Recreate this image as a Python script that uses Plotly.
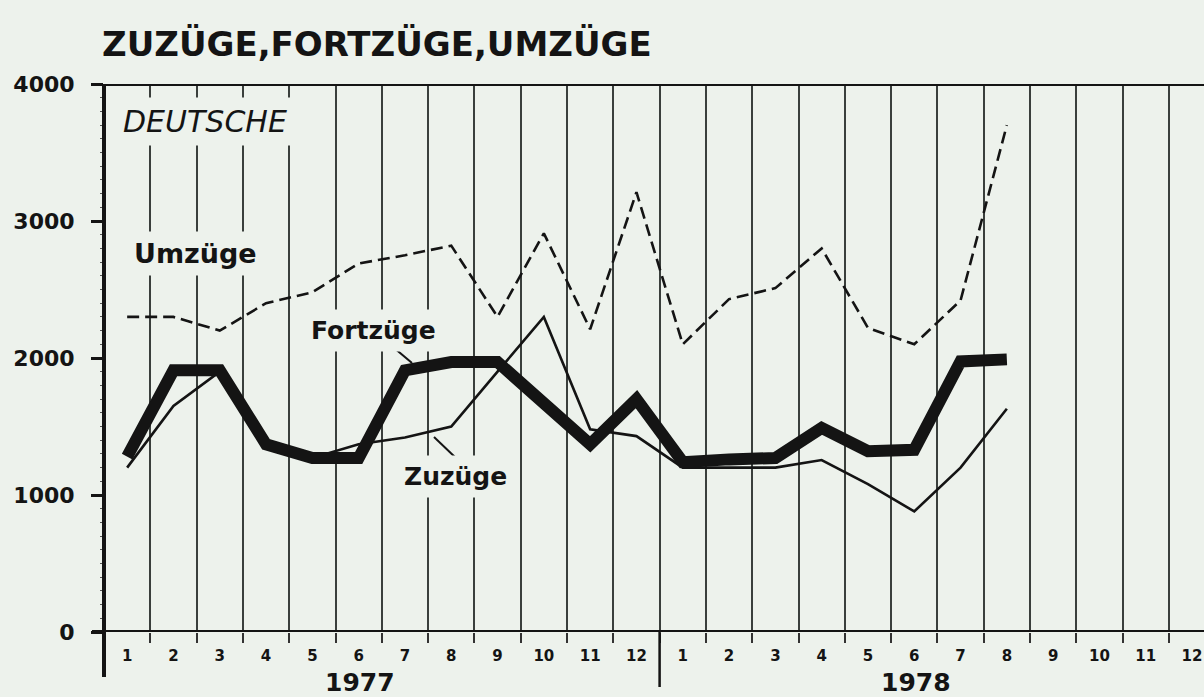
import plotly.graph_objects as go

# ---- data ----
months_1977 = ["1", "2", "3", "4", "5", "6", "7", "8", "9", "10", "11", "12"]
months_1978 = ["1", "2", "3", "4", "5", "6", "7", "8", "9", "10", "11", "12"]
month_labels = months_1977 + months_1978
years = ["1977", "1978"]

umzuege = [2300, 2300, 2200, 2400, 2480, 2690, 2750, 2820, 2300, 2910, 2210, 3210,
           2100, 2430, 2510, 2800, 2220, 2100, 2420, 3700]
fortzuege = [1280, 1910, 1910, 1370, 1270, 1270, 1910, 1970, 1970, 1680, 1370, 1700,
             1240, 1260, 1270, 1490, 1320, 1330, 1975, 1990]
zuzuege = [1200, 1650, 1900, 1360, 1270, 1370, 1420, 1500, 1900, 2300, 1480, 1430,
           1200, 1200, 1200, 1255, 1080, 880, 1200, 1630]

y_ticks = [0, 1000, 2000, 3000, 4000]

BG = "#edf2ec"
INK = "#141414"

n = len(umzuege)
x_pos = [i + 0.5 for i in range(n)]
x_all = [i + 0.5 for i in range(len(month_labels))]

fig = go.Figure()

fig.add_trace(go.Scatter(x=x_pos, y=umzuege, mode="lines", name="Umzüge",
                         line=dict(color=INK, width=2.6, dash="12px,6px")))
fig.add_trace(go.Scatter(x=x_pos, y=zuzuege, mode="lines", name="Zuzüge",
                         line=dict(color=INK, width=2.6)))
fig.add_trace(go.Scatter(x=x_pos, y=fortzuege, mode="lines", name="Fortzüge",
                         line=dict(color=INK, width=12)))

W, H = 1204, 697
L, R, T, B = 104, 0, 84, 65
px_per_month = 46.3
xmax = (W - L - R) / px_per_month

fig.update_layout(
    width=W, height=H,
    margin=dict(l=L, r=R, t=T, b=B, pad=0),
    paper_bgcolor=BG, plot_bgcolor=BG,
    showlegend=False,
    font=dict(family="DejaVu Sans", color=INK),
)

fig.update_xaxes(
    range=[0, xmax],
    tickmode="array", tickvals=x_all, ticktext=["<b>%s</b>" % t for t in month_labels],
    ticks="", showgrid=False, zeroline=False, showline=False,
    ticklabelstandoff=13,
    tickfont=dict(size=15, color=INK, family="DejaVu Sans"),
    minor=dict(tickmode="array", tickvals=list(range(0, 25)), ticks="outside",
               ticklen=10, tickwidth=1.5, tickcolor="#333",
               showgrid=True, gridcolor="#3a3f3c", gridwidth=1.5),
)

fig.update_yaxes(
    range=[0, 4000],
    tickmode="array", tickvals=y_ticks, ticktext=["<b>%d</b>" % v for v in y_ticks],
    ticks="outside", ticklen=12, tickwidth=2.5, tickcolor=INK,
    ticklabelstandoff=12,
    showgrid=False, zeroline=False, showline=False,
    tickfont=dict(size=22, color=INK, family="DejaVu Sans"),
    minor=dict(dtick=100, ticks="outside", ticklen=3, tickwidth=1, tickcolor="#555"),
)

# axis frame lines
ext = 12 / (W - L - R)
fig.add_shape(type="line", xref="paper", yref="y", x0=-ext, x1=1, y0=4000, y1=4000,
              line=dict(color=INK, width=4))
fig.add_shape(type="line", xref="paper", yref="y", x0=-ext, x1=1, y0=0, y1=0,
              line=dict(color=INK, width=4))
ylow = -(677 - 632) / (697 - T - B)
fig.add_shape(type="line", xref="paper", yref="paper", x0=0, x1=0, y0=ylow, y1=1,
              line=dict(color=INK, width=4))
# year divider
ydiv = -(687 - 632) / (697 - T - B)
fig.add_shape(type="line", xref="x", yref="paper", x0=12, x1=12, y0=ydiv, y1=0,
              line=dict(color=INK, width=2.5))

def px2x(px):
    return (px - L) / px_per_month

def py2y(py):
    return (632 - py) / 0.137

# leader lines for labels
fig.add_shape(type="line", xref="x", yref="y", x0=px2x(393), y0=py2y(347),
              x1=px2x(412), y1=py2y(363), line=dict(color=INK, width=2))
fig.add_shape(type="line", xref="x", yref="y", x0=px2x(434), y0=py2y(437),
              x1=px2x(457), y1=py2y(459), line=dict(color=INK, width=2))

# title
fig.add_annotation(text="<b>ZUZÜGE,FORTZÜGE,UMZÜGE</b>", xref="paper", yref="paper",
                   x=(100 - L) / (W - L), xanchor="left",
                   y=1 + (84 - 44) / (697 - T - B), yanchor="middle",
                   showarrow=False, font=dict(size=34, color=INK, family="DejaVu Sans"))

# in-plot labels with background (interrupting the grid)
def label(text, cx, cy, size, italic=False):
    t = "<i>%s</i>" % text if italic else "<b>%s</b>" % text
    fig.add_annotation(text=t, x=px2x(cx), y=py2y(cy), xref="x", yref="y",
                       showarrow=False, bgcolor=BG, borderpad=6,
                       font=dict(size=size, color=INK, family="DejaVu Sans"))

label("DEUTSCHE", 205, 121, 30, italic=True)
label("Umzüge", 195, 253, 27)
label("Fortzüge", 373, 330, 25)
label("Zuzüge", 455, 476, 25)

# year labels
for i, yr in enumerate(years):
    cx = [360, 916][i]
    fig.add_annotation(text="<b>%s</b>" % yr, x=px2x(cx), xref="x",
                       y=-(682 - 632) / (697 - T - B), yref="paper", yanchor="middle",
                       showarrow=False, font=dict(size=25, color=INK, family="DejaVu Sans"))

fig.write_html("out.html", config={"displayModeBar": False},
               post_script="document.body.style.margin='0px';document.body.style.overflow='hidden';")
